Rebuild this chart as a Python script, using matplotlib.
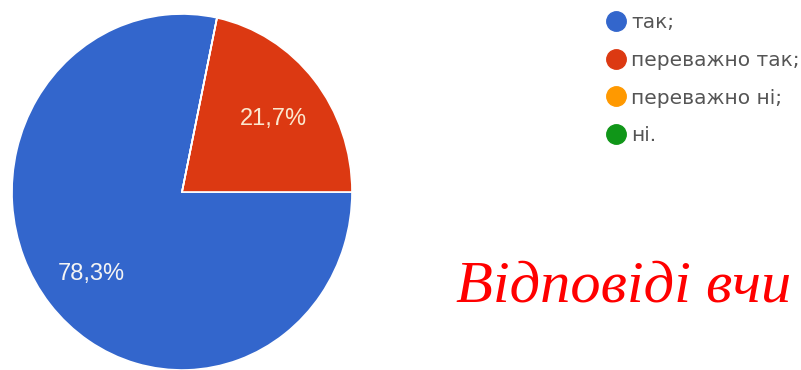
import matplotlib.pyplot as plt
from matplotlib.lines import Line2D

# chart data
labels = ['так;', 'переважно так;', 'переважно ні;', 'ні.']
values = [78.3, 21.7, 0.0, 0.0]
colors = ['#3366cc', '#dc3912', '#ff9900', '#109618']
caption = 'Відповіді вчи'

W, H = 801, 370
fig = plt.figure(figsize=(W / 100, H / 100), dpi=100)

# pie is slightly stretched vertically in the original screenshot
ax = fig.add_axes([12 / W, 0 / H, 340 / W, 356 / H])


def fmt(p):
    if p < 0.05:
        return ''
    return f'{p:.1f}%'.replace('.', ',')


wedges, texts, autotexts = ax.pie(
    values, colors=colors, startangle=360 * values[1] / 100, counterclock=True,
    autopct=fmt, pctdistance=0.69,
    wedgeprops=dict(edgecolor='white', linewidth=1.2),
    textprops=dict(color='#f4f4f4', fontsize=17, family='Liberation Sans'))
autotexts[1].set_color('#fbe8cf')
for t in autotexts:
    x, y = t.get_position()
    t.set_position((x, y - 0.025))
ax.set_aspect('auto')
ax.set_xlim(-1, 1)
ax.set_ylim(-1, 1)
ax.axis('off')

# legend
handles = [Line2D([], [], marker='o', linestyle='', markersize=14,
                  markerfacecolor=c, markeredgecolor=c) for c in colors]
fig.legend(handles, labels, loc='upper left', bbox_to_anchor=(598 / W, 1 - 7 / H),
           frameon=False, fontsize=14.5, labelcolor='#555555',
           handletextpad=0.15, labelspacing=0.93, handlelength=1.2,
           borderaxespad=0, borderpad=0.3)

# red handwritten caption
fig.text(456 / W, 68 / H, caption, color='#ff0000', fontsize=43.5,
         family='Liberation Serif', style='italic', va='baseline', ha='left')

fig.savefig('out.png', dpi=100)
